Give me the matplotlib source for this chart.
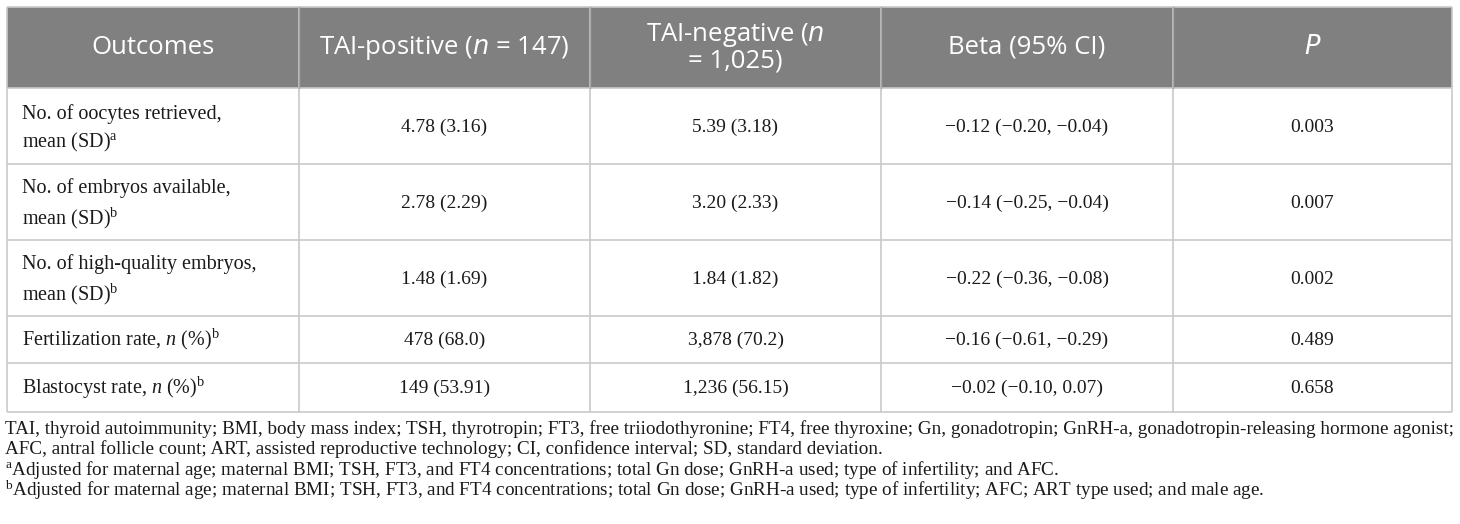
import matplotlib
matplotlib.use("Agg")
import matplotlib.pyplot as plt
from matplotlib.patches import Rectangle

plt.rcParams['mathtext.fontset'] = 'custom'
plt.rcParams['mathtext.rm'] = 'Liberation Serif'
plt.rcParams['mathtext.it'] = 'Liberation Serif:italic'

# ---- data ----
headers = ["Outcomes", "TAI-positive ($n$ = 147)", "TAI-negative ($n$\n= 1,025)", "Beta (95% CI)", "$P$"]
outcomes = [
    "No. of oocytes retrieved,\nmean (SD)$^{\\mathrm{a}}$",
    "No. of embryos available,\nmean (SD)$^{\\mathrm{b}}$",
    "No. of high-quality embryos,\nmean (SD)$^{\\mathrm{b}}$",
    "Fertilization rate, $\\mathit{n}$ (%)$^{\\mathrm{b}}$",
    "Blastocyst rate, $\\mathit{n}$ (%)$^{\\mathrm{b}}$",
]
tai_positive = ["4.78 (3.16)", "2.78 (2.29)", "1.48 (1.69)", "478 (68.0)", "149 (53.91)"]
tai_negative = ["5.39 (3.18)", "3.20 (2.33)", "1.84 (1.82)", "3,878 (70.2)", "1,236 (56.15)"]
beta_ci = ["\u22120.12 (\u22120.20, \u22120.04)", "\u22120.14 (\u22120.25, \u22120.04)",
           "\u22120.22 (\u22120.36, \u22120.08)", "\u22120.16 (\u22120.61, \u22120.29)",
           "\u22120.02 (\u22120.10, 0.07)"]
p_values = ["0.003", "0.007", "0.002", "0.489", "0.658"]
footnotes = [
    "TAI, thyroid autoimmunity; BMI, body mass index; TSH, thyrotropin; FT3, free triiodothyronine; FT4, free thyroxine; Gn, gonadotropin; GnRH-a, gonadotropin-releasing hormone agonist;",
    "AFC, antral follicle count; ART, assisted reproductive technology; CI, confidence interval; SD, standard deviation.",
    "$^{\\mathrm{a}}$Adjusted for maternal age; maternal BMI; TSH, FT3, and FT4 concentrations; total Gn dose; GnRH-a used; type of infertility; and AFC.",
    "$^{\\mathrm{b}}$Adjusted for maternal age; maternal BMI; TSH, FT3, and FT4 concentrations; total Gn dose; GnRH-a used; type of infertility; AFC; ART type used; and male age.",
]

# ---- layout ----
W, H = 1460, 524
fig = plt.figure(figsize=(W / 100, H / 100), dpi=100)
ax = fig.add_axes([0, 0, 1, 1])
ax.set_xlim(0, W)
ax.set_ylim(H, 0)
ax.axis('off')

col_x = [7, 299, 590, 881, 1173, 1452]
row_y = [7, 88, 164, 240, 316, 363, 412]
grid_c = '#c9c9c9'
head_c = '#808080'

ax.add_patch(Rectangle((col_x[0], row_y[0]), col_x[-1] - col_x[0], row_y[1] - row_y[0],
                       facecolor=head_c, edgecolor='none'))
for x in col_x:
    ax.plot([x, x], [row_y[0], row_y[-1]], color=grid_c, lw=1.2, solid_capstyle='butt')
for y in row_y:
    ax.plot([col_x[0], col_x[-1]], [y, y], color=grid_c, lw=1.2, solid_capstyle='butt')
for x in col_x[1:-1]:
    ax.plot([x, x], [row_y[0], row_y[1]], color='#a8a8a8', lw=1.0)

head_font = dict(family='Open Sans', fontsize=18.5, color='white', math_fontfamily='dejavusans')
for i, h in enumerate(headers):
    cx = (col_x[i] + col_x[i + 1]) / 2
    ax.text(cx, (row_y[0] + row_y[1]) / 2, h, ha='center', va='center',
            multialignment='center', linespacing=1.0, **head_font)

out_font = dict(family='Liberation Serif', fontsize=14.5, color='#1a1a1a')
cell_font = dict(family='Liberation Serif', fontsize=14, color='#1a1a1a')
foot_font = dict(family='Liberation Serif', fontsize=13.8, color='#1a1a1a')
columns = [tai_positive, tai_negative, beta_ci, p_values]
for r in range(len(outcomes)):
    cy = (row_y[r + 1] + row_y[r + 2]) / 2
    dy = 3 if '\n' in outcomes[r] else 0
    ax.text(col_x[0] + 15, cy + dy, outcomes[r], ha='left', va='center', linespacing=1.42, **out_font)
    for c, col in enumerate(columns):
        cx = (col_x[c + 1] + col_x[c + 2]) / 2
        ax.text(cx, cy + 1, col[r], ha='center', va='center', **cell_font)

foot_y = [429, 449, 470, 490]
for y, t in zip(foot_y, footnotes):
    ax.text(5, y, t, ha='left', va='center', **foot_font)

fig.savefig('out.png', dpi=100, facecolor='white')
